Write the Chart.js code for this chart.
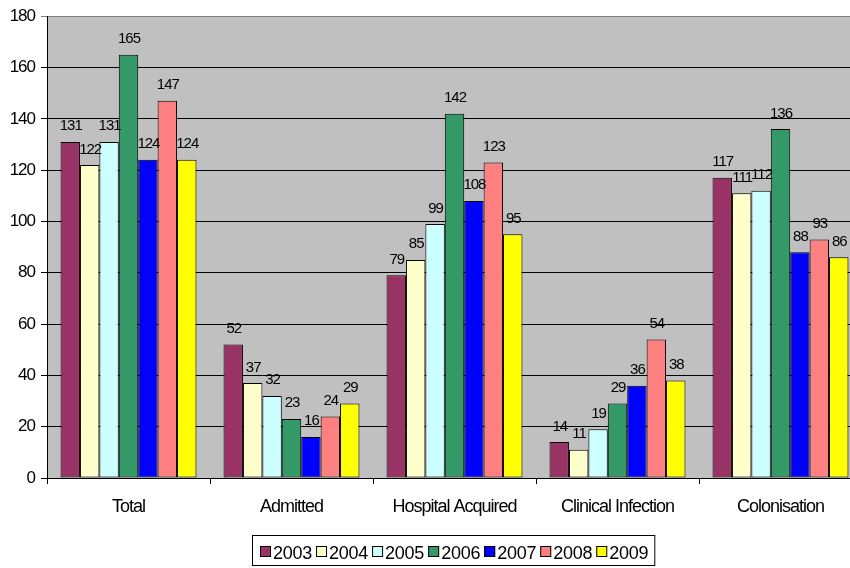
<!DOCTYPE html>
<html>
<head>
<meta charset="utf-8">
<script src="https://cdn.jsdelivr.net/npm/chart.js@4/dist/chart.umd.min.js"></script>
<style>
  html, body { margin: 0; padding: 0; background: #ffffff; overflow: hidden; }
  #wrap { width: 870px; height: 568px; }
</style>
</head>
<body>
<div id="wrap"><canvas id="c" width="870" height="568"></canvas></div>
<script>
// Categories along the x axis
const categories = ['Total', 'Admitted', 'Hospital Acquired', 'Clinical Infection', 'Colonisation'];

// One series per year
const years = ['2003', '2004', '2005', '2006', '2007', '2008', '2009'];
const y2003 = [131, 52, 79, 14, 117];
const y2004 = [122, 37, 85, 11, 111];
const y2005 = [131, 32, 99, 19, 112];
const y2006 = [165, 23, 142, 29, 136];
const y2007 = [124, 16, 108, 36, 88];
const y2008 = [147, 24, 123, 54, 93];
const y2009 = [124, 29, 95, 38, 86];

// Value axis ticks
const yTicks = [0, 20, 40, 60, 80, 100, 120, 140, 160, 180];

const seriesValues = [y2003, y2004, y2005, y2006, y2007, y2008, y2009];
const seriesColors = ['#993366', '#FFFFCC', '#CCFFFF', '#339966', '#0000FF', '#FF8080', '#FFFF00'];

const FONT = "'Liberation Sans', Arial, sans-serif";

// Grey plot background
const plotBackground = {
  id: 'plotBackground',
  beforeLayout(chart) { chart.ctx.letterSpacing = '-1px'; },
  beforeDraw(chart) {
    const { ctx, chartArea: a } = chart;
    ctx.save();
    ctx.fillStyle = '#ffffff';
    ctx.fillRect(0, 0, chart.width, chart.height);
    ctx.fillStyle = '#C0C0C0';
    ctx.fillRect(a.left, a.top, a.right - a.left, a.bottom - a.top);
    ctx.restore();
    ctx.letterSpacing = '-1px';
  }
};

// Value labels above every bar
const barLabels = {
  id: 'barLabels',
  afterDatasetsDraw(chart) {
    const ctx = chart.ctx;
    ctx.save();
    ctx.font = '15px ' + FONT;
    ctx.letterSpacing = '-1px';
    ctx.fillStyle = '#000000';
    ctx.textAlign = 'center';
    ctx.textBaseline = 'alphabetic';
    chart.data.datasets.forEach((ds, i) => {
      chart.getDatasetMeta(i).data.forEach((bar, j) => {
        ctx.fillText(String(ds.data[j]), bar.x + 0.5, bar.y - 11.5);
      });
    });
    ctx.restore();
  }
};

// Boxed legend under the category labels
const boxedLegend = {
  id: 'boxedLegend',
  afterDraw(chart) {
    const ctx = chart.ctx;
    const a = chart.chartArea;
    ctx.save();
    ctx.font = '18px ' + FONT;
    ctx.letterSpacing = '-0.25px';
    const box = 11, gapIn = 2, gapOut = 4;
    const items = chart.data.datasets.map(ds => ({
      text: ds.label, color: ds.backgroundColor, w: ctx.measureText(ds.label).width
    }));
    let total = 0;
    items.forEach((it, i) => { total += box + gapIn + it.w + (i < items.length - 1 ? gapOut : 0); });
    const cx = (a.left + a.right) / 2;
    let x = Math.round(cx - total / 2);
    const top = a.bottom + 57.5;
    const h = 30;
    // frame
    ctx.strokeStyle = '#000000';
    ctx.lineWidth = 1;
    ctx.strokeRect(x - 7.5, top, total + 14, h);
    const boxTop = Math.round(top + 10.5);
    ctx.textAlign = 'left';
    ctx.textBaseline = 'alphabetic';
    items.forEach(it => {
      ctx.fillStyle = it.color;
      ctx.fillRect(x, boxTop, box, box);
      ctx.strokeRect(x + 0.5, boxTop + 0.5, box - 1, box - 1);
      ctx.fillStyle = '#000000';
      ctx.fillText(it.text, x + box + gapIn, boxTop + 12.5);
      x += box + gapIn + it.w + gapOut;
    });
    ctx.restore();
  }
};

const datasets = years.map((yr, i) => ({
  label: yr,
  data: seriesValues[i],
  backgroundColor: seriesColors[i],
  borderColor: '#000000',
  borderWidth: 1,
  borderSkipped: false
}));

new Chart(document.getElementById('c'), {
  type: 'bar',
  data: { labels: categories, datasets },
  options: {
    responsive: false,
    animation: false,
    events: [],
    layout: { padding: { left: 0, right: 8, top: 15, bottom: 0 } },
    datasets: { bar: { categoryPercentage: 0.834, barPercentage: 1.0 } },
    plugins: { legend: { display: false }, tooltip: { enabled: false } },
    scales: {
      x: {
        type: 'category',
        offset: true,
        afterFit(scale) { scale.height = 90; },
        grid: {
          offset: true,
          drawOnChartArea: false,
          drawTicks: true,
          tickLength: 6,
          color: '#000000',
          lineWidth: 1
        },
        border: { display: true, color: '#000000', width: 1 },
        ticks: {
          color: '#000000',
          font: { family: FONT, size: 18 },
          padding: 12,
          maxRotation: 0,
          autoSkip: false
        }
      },
      y: {
        min: 0,
        max: 180,
        afterFit(scale) { scale.width = 47; },
        afterBuildTicks(scale) { scale.ticks = yTicks.map(v => ({ value: v })); },
        grid: {
          drawTicks: true,
          tickLength: 6,
          color: ctx => (ctx.tick && ctx.tick.value === 180) ? '#808080' : '#000000',
          lineWidth: 1
        },
        border: { display: true, color: '#000000', width: 1 },
        ticks: {
          color: '#000000',
          font: { family: FONT, size: 17 },
          padding: 6
        }
      }
    }
  },
  plugins: [plotBackground, barLabels, boxedLegend]
});
</script>
</body>
</html>
